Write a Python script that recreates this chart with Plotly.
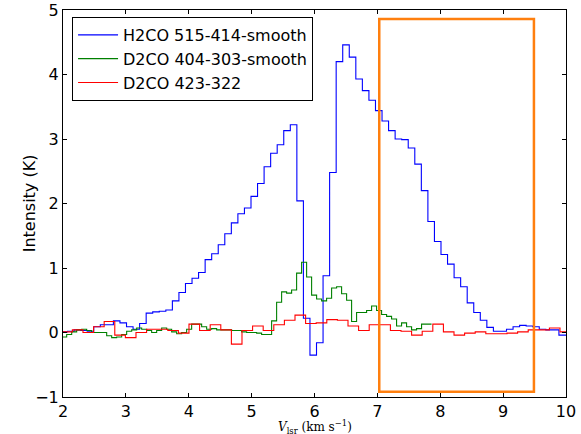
import numpy as np
import plotly.graph_objects as go

# ---- data (velocity channels: start + width, intensities in K) ----
h2co_v0, h2co_dv = 1.864, 0.1042
h2co_515_414 = [0.01, 0.01, 0.02, 0.04, 0.03, 0.02, 0.09, 0.12, 0.12, 0.18,
                0.15, 0.09, 0.05, 0.14, 0.30, 0.32, 0.33, 0.35, 0.49, 0.62,
                0.76, 0.84, 0.93, 1.13, 1.22, 1.36, 1.53, 1.70, 1.84, 1.93,
                2.11, 2.31, 2.57, 2.78, 2.91, 3.13, 3.22, 2.04, 0.22, -0.35,
                -0.16, 0.88, 2.48, 4.20, 4.46, 4.27, 3.93, 3.75, 3.60, 3.44,
                3.28, 3.13, 3.00, 2.99, 2.86, 2.61, 2.20, 1.72, 1.41, 1.21,
                1.06, 0.85, 0.71, 0.46, 0.31, 0.19, 0.08, 0.02, 0.02, 0.05,
                0.09, 0.11, 0.10, 0.09, 0.05, 0.04, 0.04, -0.04, -0.04]

d2co404_v0, d2co404_dv = 1.979, 0.0795
d2co_404_303 = [-0.07, -0.03, 0.01, 0.04, 0.05, 0.03, 0.00, 0.00, 0.00, -0.05,
                -0.08, -0.07, -0.03, 0.02, 0.04, 0.07, 0.05, 0.03, 0.00, 0.03,
                0.07, 0.05, 0.01, -0.02, 0.00, 0.05, 0.13, 0.13, 0.09, 0.05,
                0.06, 0.04, 0.04, 0.04, 0.03, 0.03, 0.01, 0.00, 0.00, -0.01,
                -0.03, -0.03, 0.18, 0.47, 0.63, 0.61, 0.66, 0.92, 1.09, 0.86,
                0.58, 0.52, 0.49, 0.53, 0.69, 0.71, 0.60, 0.50, 0.17, 0.31,
                0.31, 0.34, 0.41, 0.34, 0.28, 0.25, 0.21, 0.10, 0.15, 0.09,
                0.04, 0.06, 0.13, 0.13]

d2co423_v0, d2co423_dv = 1.812, 0.1686
d2co_423_322 = [0.00, 0.01, 0.04, 0.00, 0.09, 0.17, -0.04, -0.08, 0.00, 0.05,
                0.05, 0.03, -0.01, 0.13, 0.03, 0.12, 0.04, -0.18, 0.03, 0.10,
                0.03, 0.12, 0.19, 0.27, 0.14, 0.15, 0.20, 0.19, 0.10, 0.03,
                0.12, 0.12, 0.03, 0.02, -0.04, 0.02, 0.13, 0.01, -0.04, -0.01,
                0.01, -0.02, -0.02, -0.01, 0.01, 0.04, 0.04, 0.07, 0.01]

series_names = ["H2CO 515-414-smooth", "D2CO 404-303-smooth", "D2CO 423-322"]
series_colors = ["#0000ff", "#008000", "#ff0000"]

box_v = [7.03, 9.49]      # highlighted velocity window
box_int = [-0.92, 4.86]

x_ticks = [2, 3, 4, 5, 6, 7, 8, 9, 10]
y_ticks = [-1, 0, 1, 2, 3, 4, 5]


def steps(v0, dv, vals):
    edges = v0 + dv * np.arange(len(vals) + 1)
    return edges, list(vals) + [vals[-1]]


fig = go.Figure()
for (v0, dv, vals), name, col in zip(
        [(h2co_v0, h2co_dv, h2co_515_414),
         (d2co404_v0, d2co404_dv, d2co_404_303),
         (d2co423_v0, d2co423_dv, d2co_423_322)],
        series_names, series_colors):
    x, y = steps(v0, dv, vals)
    fig.add_trace(go.Scatter(x=x, y=y, mode="lines", name=name,
                             line=dict(color=col, width=1.1, shape="hv")))

fig.add_shape(type="rect", xref="x", yref="y",
              x0=box_v[0], x1=box_v[1], y0=box_int[0], y1=box_int[1],
              line=dict(color="#ff7f0e", width=2.5), fillcolor="rgba(0,0,0,0)")

axis_common = dict(showgrid=False, zeroline=False, showline=True,
                   linecolor="black", linewidth=1, mirror="ticks",
                   ticks="inside", ticklen=4, tickcolor="black", automargin=False,
                   tickfont=dict(family="DejaVu Sans", size=16, color="black"))

fig.update_xaxes(range=[2, 10], tickvals=x_ticks, **axis_common)
fig.update_yaxes(range=[-1, 5], tickvals=y_ticks, **axis_common)

fig.add_annotation(text="<i>V</i><sub>lsr</sub> (km s<sup>−1</sup>)",
                   xref="paper", yref="paper", x=0.501, y=-0.078,
                   xanchor="center", yanchor="middle", showarrow=False,
                   font=dict(family="DejaVu Serif", size=12, color="black"))
fig.add_annotation(text="Intensity (K)", textangle=-90,
                   xref="paper", yref="paper", x=-0.066, y=0.5,
                   xanchor="center", yanchor="middle", showarrow=False,
                   font=dict(family="DejaVu Sans", size=16, color="black"))

fig.update_layout(
    width=581, height=434,
    margin=dict(l=63, r=15, t=10, b=37, autoexpand=False),
    paper_bgcolor="white", plot_bgcolor="white",
    legend=dict(x=0.018, y=0.982, xanchor="left", yanchor="top",
                bordercolor="black", borderwidth=1, bgcolor="white",
                font=dict(family="DejaVu Sans", size=16, color="black"),
                itemwidth=40, tracegroupgap=0),
)

fig.write_html("out.html", config={"displayModeBar": False})

# remove the browser's default page margin so the figure sits at (0, 0)
with open("out.html", encoding="utf-8") as f:
    html = f.read()
html = html.replace("<head>", "<head><style>html,body{margin:0;padding:0;overflow:hidden;}</style>", 1)
with open("out.html", "w", encoding="utf-8") as f:
    f.write(html)
